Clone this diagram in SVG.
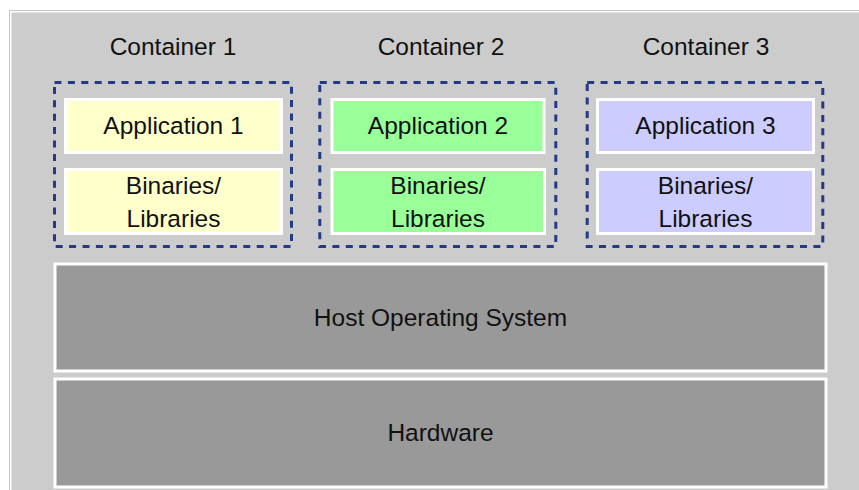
<svg xmlns="http://www.w3.org/2000/svg" width="859" height="490" viewBox="0 0 859 490">
<style>
text{font-family:"Liberation Sans",Arial,sans-serif;font-size:24.5px;fill:#111;text-anchor:middle}
.dash{fill:none;stroke:#233a85;stroke-width:3;stroke-dasharray:7 6.4}
.box{stroke:#fff;stroke-width:3}
.y{fill:#ffffcc}.g{fill:#99ff99}.b{fill:#ccccff}.k{fill:#999999}
</style>
<rect x="0" y="0" width="859" height="490" fill="#fff"/>
<rect x="9.5" y="10.5" width="860" height="490" fill="none" stroke="#c6c6c6" stroke-width="1"/>
<rect x="11.5" y="12.5" width="860" height="490" fill="#cccccc"/>
<g id="container1">
<text x="173" y="55">Container 1</text>
<rect class="dash" x="54.5" y="82.5" width="237" height="164"/>
<g id="app1"><rect class="box y" x="65.5" y="99.5" width="216" height="53"/><text x="173.5" y="134">Application 1</text></g>
<g id="bins1"><rect class="box y" x="65.5" y="169.5" width="216" height="64"/><text x="173.5" y="193.5">Binaries/</text><text x="173.5" y="226.5">Libraries</text></g>
</g>
<g id="container2">
<text x="441" y="55">Container 2</text>
<rect class="dash" x="319.8" y="82.5" width="236" height="164"/>
<g id="app2"><rect class="box g" x="332" y="99.5" width="212" height="53"/><text x="438" y="134">Application 2</text></g>
<g id="bins2"><rect class="box g" x="332" y="169.5" width="212.5" height="64"/><text x="438" y="193.5">Binaries/</text><text x="438" y="226.5">Libraries</text></g>
</g>
<g id="container3">
<text x="706" y="55">Container 3</text>
<rect class="dash" x="587.2" y="82.5" width="235.6" height="164"/>
<g id="app3"><rect class="box b" x="597.5" y="99.5" width="216" height="53"/><text x="705.5" y="134">Application 3</text></g>
<g id="bins3"><rect class="box b" x="597.5" y="169.5" width="216" height="64"/><text x="705.5" y="193.5">Binaries/</text><text x="705.5" y="226.5">Libraries</text></g>
</g>
<g id="host-os"><rect class="box k" x="55" y="264" width="771" height="107"/><text x="440.5" y="326">Host Operating System</text></g>
<g id="hardware"><rect class="box k" x="55" y="379" width="771" height="108"/><text x="440.5" y="441">Hardware</text></g>
<g id="connectors"></g>
</svg>
